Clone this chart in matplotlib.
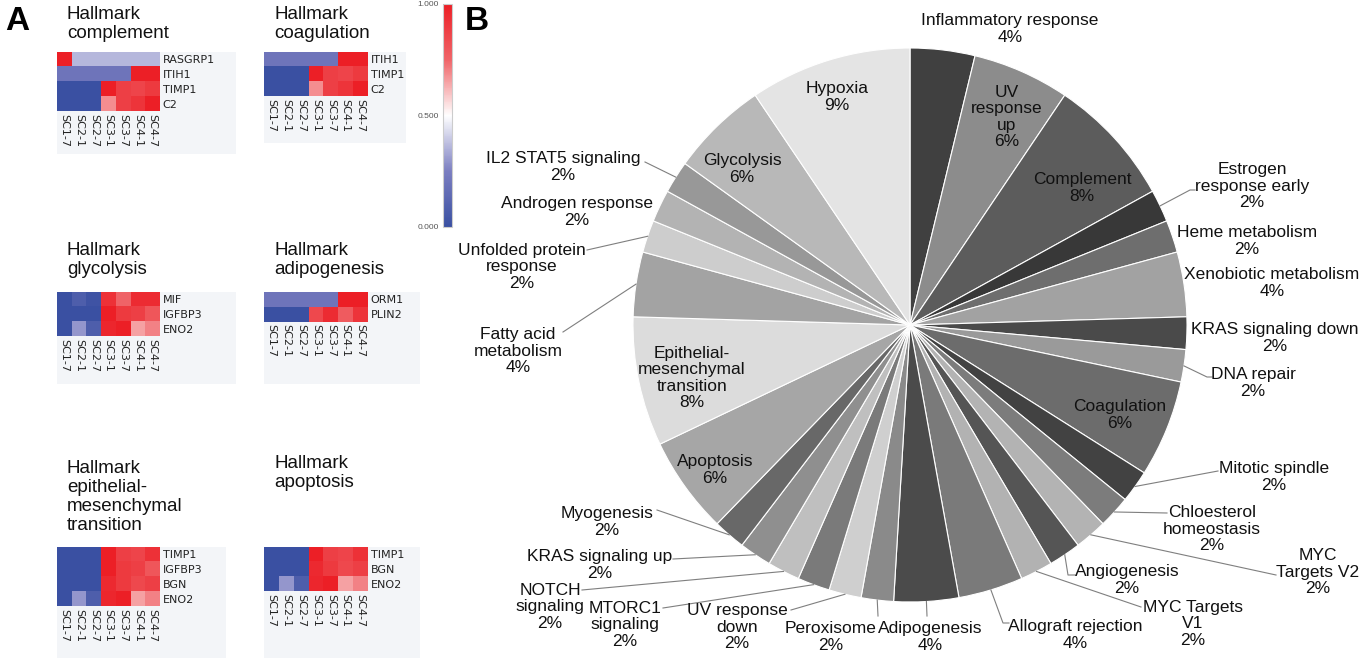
import numpy as np
import matplotlib
matplotlib.use("Agg")
import matplotlib.pyplot as plt
from matplotlib.colors import LinearSegmentedColormap, Normalize
from matplotlib.cm import ScalarMappable
from matplotlib.patches import Rectangle

plt.rcParams['font.family'] = ['Liberation Sans', 'DejaVu Sans']

W, H = 1364, 658

# ---- panel A data ----
columns = ['SC1-7', 'SC2-1', 'SC2-7', 'SC3-1', 'SC3-7', 'SC4-1', 'SC4-7']

complement_genes = ['RASGRP1', 'ITIH1', 'TIMP1', 'C2']
complement_vals = [[1.0, 0.36, 0.36, 0.36, 0.36, 0.36, 0.36],
                   [0.2, 0.2, 0.2, 0.2, 0.2, 1.0, 1.0],
                   [0.0, 0.0, 0.0, 1.0, 0.88, 0.86, 0.9],
                   [0.0, 0.0, 0.0, 0.68, 0.88, 0.92, 1.0]]

coagulation_genes = ['ITIH1', 'TIMP1', 'C2']
coagulation_vals = [[0.2, 0.2, 0.2, 0.2, 0.2, 1.0, 1.0],
                    [0.0, 0.0, 0.0, 1.0, 0.88, 0.86, 0.9],
                    [0.0, 0.0, 0.0, 0.68, 0.88, 0.92, 1.0]]

glycolysis_genes = ['MIF', 'IGFBP3', 'ENO2']
glycolysis_vals = [[0.0, 0.08, 0.02, 0.93, 0.75, 0.95, 0.95],
                   [0.0, 0.0, 0.0, 1.0, 0.9, 0.88, 0.8],
                   [0.0, 0.3, 0.08, 0.97, 1.0, 0.65, 0.7]]

adipogenesis_genes = ['ORM1', 'PLIN2']
adipogenesis_vals = [[0.2, 0.2, 0.2, 0.2, 0.2, 1.0, 1.0],
                     [0.0, 0.0, 0.0, 0.85, 0.95, 0.78, 0.92]]

emt_genes = ['TIMP1', 'IGFBP3', 'BGN', 'ENO2']
emt_vals = [[0.0, 0.0, 0.0, 1.0, 0.88, 0.86, 0.93],
            [0.0, 0.0, 0.0, 1.0, 0.9, 0.88, 0.8],
            [0.0, 0.0, 0.0, 0.96, 0.9, 0.85, 0.88],
            [0.0, 0.3, 0.08, 0.97, 1.0, 0.65, 0.7]]

apoptosis_genes = ['TIMP1', 'BGN', 'ENO2']
apoptosis_vals = [[0.0, 0.0, 0.0, 1.0, 0.88, 0.86, 0.93],
                  [0.0, 0.0, 0.0, 0.96, 0.9, 0.85, 0.88],
                  [0.0, 0.3, 0.08, 0.97, 1.0, 0.65, 0.7]]

colorbar_ticks = [0.0, 0.5, 1.0]

# ---- panel B data (gene counts per hallmark) ----
pathways = ['Inflammatory response', 'UV\nresponse\nup', 'Complement',
            'Estrogen\nresponse early', 'Heme metabolism', 'Xenobiotic metabolism',
            'KRAS signaling down', 'DNA repair', 'Coagulation', 'Mitotic spindle',
            'Chloesterol\nhomeostasis', 'MYC\nTargets V2', 'Angiogenesis',
            'MYC Targets\nV1', 'Allograft rejection', 'Adipogenesis', 'Peroxisome',
            'UV response\ndown', 'MTORC1\nsignaling', 'NOTCH\nsignaling',
            'KRAS signaling up', 'Myogenesis', 'Apoptosis',
            'Epithelial-\nmesenchymal\ntransition', 'Fatty acid\nmetabolism',
            'Unfolded protein\nresponse', 'Androgen response', 'IL2 STAT5 signaling',
            'Glycolysis', 'Hypoxia']
counts = [2, 3, 4, 1, 1, 2, 1, 1, 3, 1, 1, 1, 1, 1, 2, 2, 1, 1, 1, 1, 1, 1,
          3, 4, 2, 1, 1, 1, 3, 5]

slice_colors = ['#404040', '#8c8c8c', '#5c5c5c', '#383838', '#6e6e6e', '#a2a2a2',
                '#4a4a4a', '#9a9a9a', '#6c6c6c', '#424242', '#7c7c7c', '#b3b3b3',
                '#555555', '#b2b2b2', '#7a7a7a', '#4b4b4b', '#8a8a8a', '#cfcfcf',
                '#7a7a7a', '#bfbfbf', '#8f8f8f', '#686868', '#a6a6a6', '#dcdcdc',
                '#a3a3a3', '#cdcdcd', '#b3b3b3', '#989898', '#b8b8b8', '#e4e4e4']

# label block centres (pixels, y down)
label_xy = [(1010, 29), (1007, 117), (1082, 188), (1252, 186), (1247, 241),
            (1272, 283), (1275, 338), (1253, 383), (1120, 415), (1274, 477),
            (1212, 529), (1318, 572), (1127, 580), (1193, 624), (1075, 635),
            (930, 637), (831, 637), (737, 627), (625, 625), (550, 607),
            (600, 565), (607, 522), (715, 470), (692, 378), (518, 351),
            (522, 267), (577, 212), (563, 167), (742, 169), (837, 97)]

leaders = {3: [(1190, 190), (1195, 190)], 7: [(1207, 377), (1212, 377)],
           9: [(1218, 471)], 10: [(1167, 513)], 11: [(1276, 575)],
           12: [(1068, 575), (1075, 575)], 13: [(1141, 607)],
           14: [(1003, 623), (1009, 623)], 15: [(927, 616)],
           16: [(878, 616)], 17: [(791, 610)], 18: [(663, 608)],
           19: [(582, 590)], 20: [(673, 559)], 21: [(657, 510)],
           24: [(563, 332)], 25: [(587, 250)], 27: [(645, 162)]}


def frac(x0, y0, x1, y1):
    return [x0 / W, 1 - y1 / H, (x1 - x0) / W, (y1 - y0) / H]


fig = plt.figure(figsize=(W / 100, H / 100), dpi=100)
cmap = LinearSegmentedColormap.from_list(
    'bwr_a', [(0.0, '#3a50a2'), (0.25, '#7b7ec1'), (0.5, '#ffffff'),
              (0.75, '#f06468'), (1.0, '#ec1f26')])

heatmaps = [
    ('Hallmark\ncomplement', complement_genes, complement_vals, (57, 52, 160), (236, 154), (67, 24)),
    ('Hallmark\ncoagulation', coagulation_genes, coagulation_vals, (264, 52, 368), (406, 143), (274, 24)),
    ('Hallmark\nglycolysis', glycolysis_genes, glycolysis_vals, (57, 292, 160), (236, 384), (67, 260)),
    ('Hallmark\nadipogenesis', adipogenesis_genes, adipogenesis_vals, (264, 292, 368), (420, 384), (274, 260)),
    ('Hallmark\nepithelial-\nmesenchymal\ntransition', emt_genes, emt_vals, (57, 547, 160), (226, 658), (67, 497)),
    ('Hallmark\napoptosis', apoptosis_genes, apoptosis_vals, (264, 547, 368), (420, 658), (274, 473)),
]

for title, genes, vals, (x0, y0, x1), (bx, by), (tx, ty) in heatmaps:
    fig.add_artist(Rectangle((x0 / W, 1 - by / H), (bx - x0) / W, (by - y0) / H,
                             transform=fig.transFigure, facecolor='#f3f5f8',
                             edgecolor='none', zorder=-1))
    y1 = y0 + 14.8 * len(genes)
    ax = fig.add_axes(frac(x0, y0, x1, y1))
    ax.imshow(np.array(vals), cmap=cmap, vmin=0, vmax=1, aspect='auto',
              interpolation='nearest')
    ax.set_xticks(range(len(columns)))
    ax.set_xticklabels(columns, rotation=270, fontsize=8, color='#222222',
                       family='DejaVu Sans')
    ax.set_yticks(range(len(genes)))
    ax.set_yticklabels(genes, fontsize=8, color='#222222', family='DejaVu Sans')
    ax.yaxis.tick_right()
    ax.tick_params(length=0, pad=2)
    for s in ax.spines.values():
        s.set_visible(False)
    fig.text(tx / W, 1 - ty / H, title, fontsize=13.5, ha='left', va='center',
             linespacing=1.15, color='#111111')

cax = fig.add_axes(frac(443, 4, 452, 227))
cb = fig.colorbar(ScalarMappable(Normalize(0, 1), cmap), cax=cax, ticks=colorbar_ticks,
                  format='%.3f')
cax.yaxis.set_ticks_position('left')
cax.tick_params(length=0, labelsize=6, labelcolor='#555555', pad=3)
cb.outline.set_edgecolor('#cccccc')

fig.text(17 / W, 1 - 22 / H, 'A', fontsize=24, fontweight='bold', ha='center', va='center')
fig.text(477 / W, 1 - 22 / H, 'B', fontsize=24, fontweight='bold', ha='center', va='center')

# ---- panel B pie ----
ax = fig.add_axes([0, 0, 1, 1])
cx, cy, r = 910, 325, 277
wedges, _ = ax.pie(counts, colors=slice_colors, startangle=-90, counterclock=True,
                   center=(cx, cy), radius=r, frame=True,
                   wedgeprops=dict(edgecolor='white', linewidth=0.8))
ax.set_xlim(0, W)
ax.set_ylim(H, 0)
ax.axis('off')

total = sum(counts)
for i, (name, c) in enumerate(zip(pathways, counts)):
    pct = round(100 * c / total)
    lx, ly = label_xy[i]
    ax.text(lx, ly, f'{name}\n{pct}%', ha='center', va='center', fontsize=12.5,
            linespacing=1.1, color='#111111', multialignment='center')
    if i in leaders:
        w = wedges[i]
        mid = np.deg2rad((w.theta1 + w.theta2) / 2)
        pts = [(cx + r * np.cos(mid), cy + r * np.sin(mid))] + leaders[i]
        xs, ys = zip(*pts)
        ax.plot(xs, ys, color='#7f7f7f', lw=0.8)

fig.savefig('out.png', dpi=100)
